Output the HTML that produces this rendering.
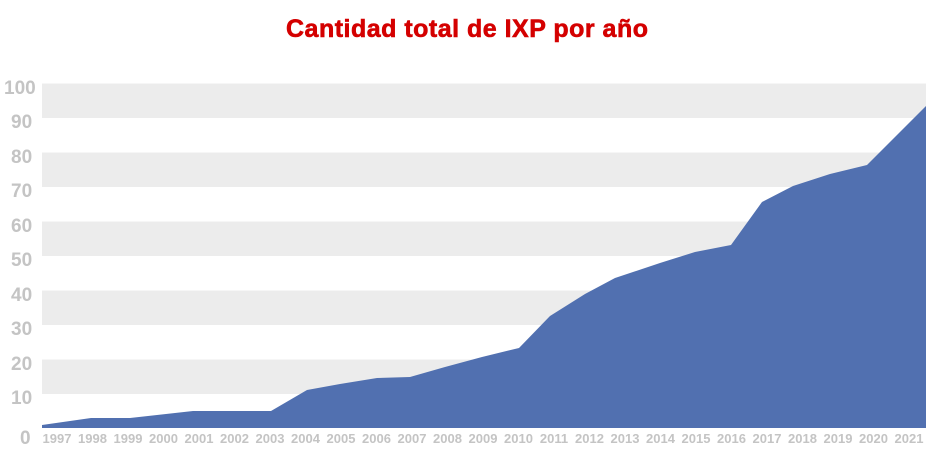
<!DOCTYPE html>
<html><head><meta charset="utf-8"><style>
body{margin:0;background:#fff;width:936px;height:456px;overflow:hidden}
</style></head><body>
<svg width="936" height="456" xmlns="http://www.w3.org/2000/svg" font-family="Liberation Sans, Arial, sans-serif">
<text x="467" y="37" text-anchor="middle" font-size="25" font-weight="bold" fill="#d40000" stroke="#d40000" stroke-width="0.6" textLength="362">Cantidad total de IXP por año</text>
<g fill="#ececec">
<rect x="42" y="83.5" width="884" height="34.5"/>
<rect x="42" y="152.5" width="884" height="34.5"/>
<rect x="42" y="221.5" width="884" height="34.5"/>
<rect x="42" y="290.5" width="884" height="34.5"/>
<rect x="42" y="359.5" width="884" height="34.5"/>
</g>
<polygon fill="#5170b0" points="42,428 42,425 91,418 130,418 193,411 271,411 307,390 340,384 377,378 410,377 445,367 482,357 519,348 550,316 585,294 615,278 660,263 695,252 731,245 762,202 793,186 830,174 867,165 926,106 926,428"/>
<g font-size="19" font-weight="bold" fill="#c4c4c4">
<text x="4" y="94">100</text><text x="11" y="128">90</text><text x="11" y="163">80</text><text x="11" y="197">70</text><text x="11" y="232">60</text><text x="11" y="266">50</text><text x="11" y="301">40</text><text x="11" y="335">30</text><text x="11" y="370">20</text><text x="11" y="404">10</text><text x="20" y="444">0</text>
</g>
<g font-size="13" font-weight="bold" fill="#c4c4c4" text-anchor="middle">
<text x="57" y="443">1997</text><text x="92.5" y="443">1998</text><text x="128" y="443">1999</text><text x="163.5" y="443">2000</text><text x="199" y="443">2001</text><text x="234.5" y="443">2002</text><text x="270" y="443">2003</text><text x="305.5" y="443">2004</text><text x="341" y="443">2005</text><text x="376.5" y="443">2006</text><text x="412" y="443">2007</text><text x="447.5" y="443">2008</text><text x="483" y="443">2009</text><text x="518.5" y="443">2010</text><text x="554" y="443">2011</text><text x="589.5" y="443">2012</text><text x="625" y="443">2013</text><text x="660.5" y="443">2014</text><text x="696" y="443">2015</text><text x="731.5" y="443">2016</text><text x="767" y="443">2017</text><text x="802.5" y="443">2018</text><text x="838" y="443">2019</text><text x="873.5" y="443">2020</text><text x="909" y="443">2021</text>
</g>
</svg>
</body></html>
